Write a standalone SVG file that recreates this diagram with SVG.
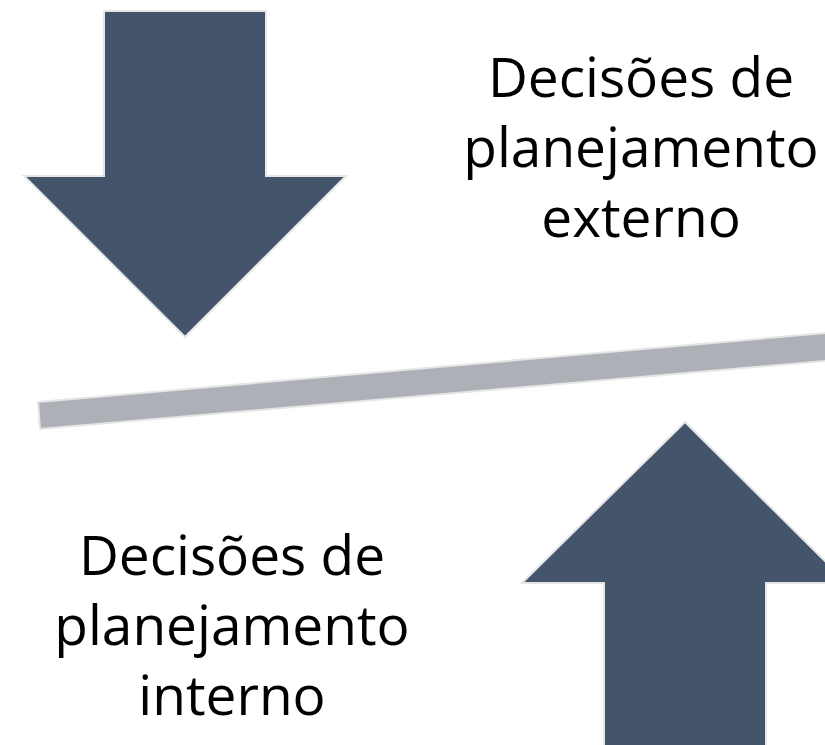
<svg xmlns="http://www.w3.org/2000/svg" width="825" height="745" viewBox="0 0 825 745">
<style>
.arrow{fill:#44546A;stroke:#E6E6E6;stroke-width:2}
.bar{fill:#ADB0B7;stroke:#E6E6E6;stroke-width:2}
.lbl{font-family:"Open Sans","Liberation Sans",sans-serif;font-size:55px;fill:#000;text-anchor:middle}
</style>
<rect width="825" height="745" fill="#fff"/>
<g id="down-arrow">
<polygon class="arrow" points="104,11 266,11 266,176 346,176 185,337 24,176 104,176"/>
</g>
<g id="beam">
<polygon class="bar" points="38,402 826,333 826,361 40,429"/>
</g>
<g id="up-arrow">
<polygon class="arrow" points="685,422 847,583 766,583 766,746 604,746 604,583 522,583"/>
</g>
<g id="label-externo">
<text class="lbl" x="641" y="97">Decisões de</text>
<text class="lbl" x="641" y="167">planejamento</text>
<text class="lbl" x="641" y="237">externo</text>
</g>
<g id="label-interno">
<text class="lbl" x="232" y="575">Decisões de</text>
<text class="lbl" x="232" y="645">planejamento</text>
<text class="lbl" x="232" y="715">interno</text>
</g>
</svg>
